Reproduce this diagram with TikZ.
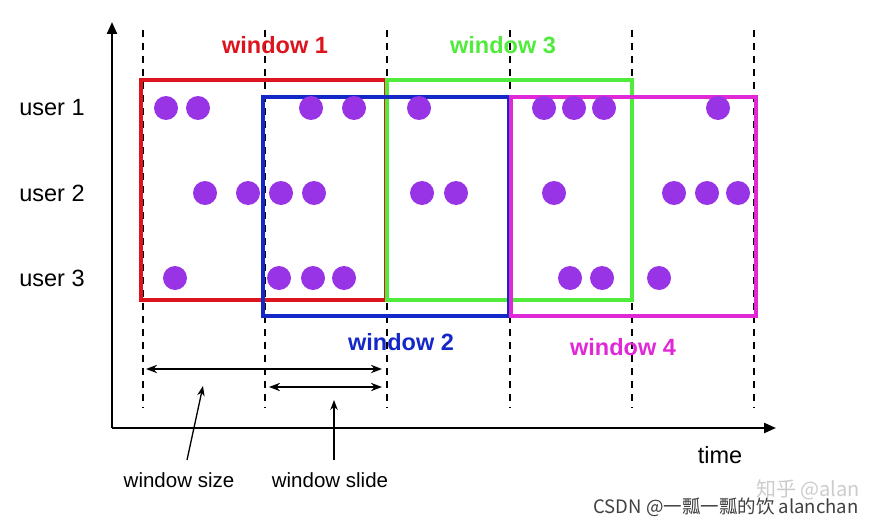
\documentclass[tikz,border=0pt]{standalone}
\usepackage{fontspec}
\setmainfont{Liberation Sans}
\newfontfamily\cjk{Noto Sans CJK SC}
\usetikzlibrary{arrows.meta}
\definecolor{dotc}{RGB}{153,51,230}
\definecolor{wred}{RGB}{220,20,30}
\definecolor{wgreen}{RGB}{80,235,60}
\definecolor{wblue}{RGB}{20,40,200}
\definecolor{wmag}{RGB}{225,40,215}
\begin{document}
\begin{tikzpicture}[x=1pt,y=-1pt,
  dotn/.style={circle,fill=dotc,minimum size=24pt,inner sep=0pt},
  win/.style={line width=3.5pt},
  wlab/.style={font=\bfseries\fontsize{23.5}{23.5}\selectfont},
  ulab/.style={font=\fontsize{23.5}{23.5}\selectfont},
  slab/.style={font=\fontsize{20.5}{20.5}\selectfont},
  grid/.style={line width=1.8pt,dash pattern=on 7pt off 6pt}]
\useasboundingbox (0,0) rectangle (880,527);
\fill[white] (0,0) rectangle (880,527);
\coordinate (o) at (112,428);
\coordinate (ytop) at (112,22);
\coordinate (xend) at (776,428);
\draw[line width=2.2pt,-{Triangle[length=12pt,width=10pt]}] (o) -- (ytop);
\draw[line width=2.2pt,-{Triangle[length=12pt,width=10pt]}] (o) -- (xend);
\foreach \x in {143,265,387,510,632,754}
  \draw[grid] (\x,30) -- (\x,408);
\draw[win,wred] (141,80) rectangle (386,300);
\draw[win,wgreen] (387,80) rectangle (632,300);
\draw[win,wblue] (263,97) rectangle (509,316);
\draw[win,wmag] (511,97) rectangle (756,316);
\node[wlab,text=wred] (w1) at (275,45) {window 1};
\node[wlab,text=wgreen] (w3) at (503,45) {window 3};
\node[wlab,text=wblue] (w2) at (401,342) {window 2};
\node[wlab,text=wmag] (w4) at (623,347) {window 4};
\node[ulab] (u1) at (52,108) {user 1};
\node[ulab] (u2) at (52,193) {user 2};
\node[ulab] (u3) at (52,278) {user 3};
\foreach \x in {166,198,311,354,419,544,574,604,718} \node[dotn] at (\x,108) {};
\foreach \x in {205,248,281,314,422,456,554,674,707,738} \node[dotn] at (\x,193) {};
\foreach \x in {175,279,313,344,570,602,659} \node[dotn] at (\x,278) {};
\coordinate (a1) at (146,369); \coordinate (b1) at (382,369);
\coordinate (a2) at (269,387); \coordinate (b2) at (382,387);
\draw[line width=2.2pt,{Stealth[length=11pt]}-{Stealth[length=11pt]}] (a1) -- (b1);
\draw[line width=2.2pt,{Stealth[length=11pt]}-{Stealth[length=11pt]}] (a2) -- (b2);
\node[slab] (ws) at (179,480) {window size};
\node[slab] (wsl) at (330,480) {window slide};
\node[ulab] (t) at (720,455) {time};
\coordinate (p1) at (203,386); \coordinate (p2) at (334,400);
\draw[line width=1.3pt,-{Stealth[length=10pt]}] (187,460) -- (p1);
\draw[line width=1.3pt,-{Stealth[length=10pt]}] (334,460) -- (p2);
\node[text=gray!40,font=\cjk\fontsize{20}{20}\selectfont] (wm1) at (808,490) {知乎 @alan};
\node[text=black!75,font=\cjk\fontsize{18.5}{18.5}\selectfont] (wm2) at (726,507) {CSDN @一瓢一瓢的饮 alanchan};
\end{tikzpicture}
\end{document}
